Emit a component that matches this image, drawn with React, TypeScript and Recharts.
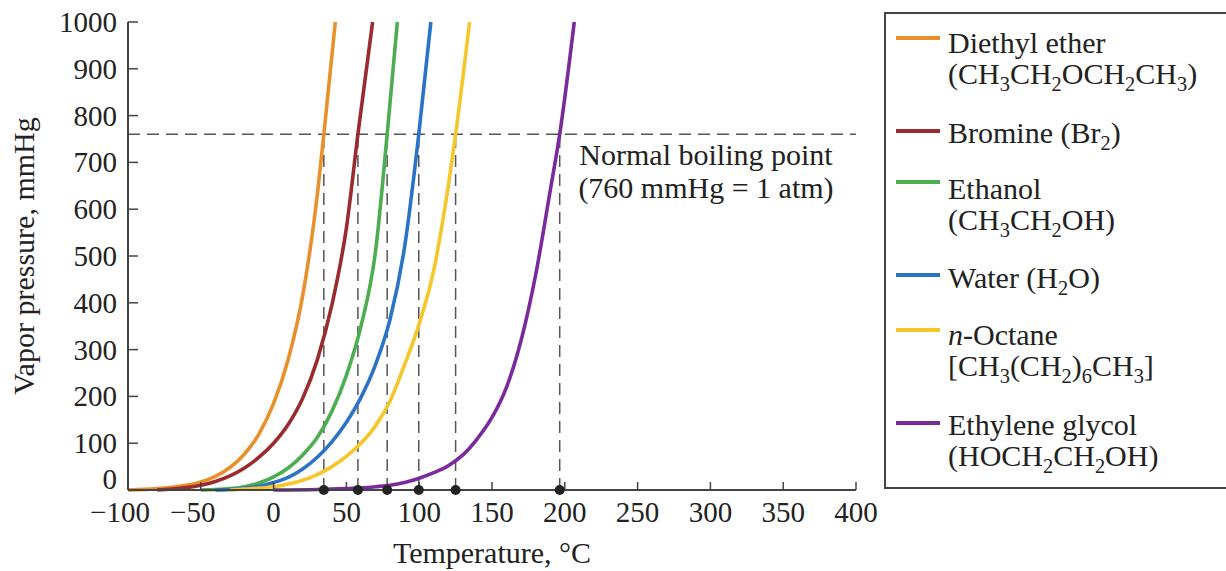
import React from "react";
import {
  LineChart,
  Line,
  XAxis,
  YAxis,
  ReferenceLine,
  ReferenceDot,
} from "recharts";

// vapor pressure (mmHg) vs temperature (°C)
const etherPts = [
  { t: -100, p: 0 }, { t: -80, p: 3 }, { t: -70, p: 6 }, { t: -60, p: 10 }, { t: -50, p: 17 },
  { t: -40, p: 29 }, { t: -30, p: 48 }, { t: -20, p: 77 }, { t: -10, p: 120 }, { t: 0, p: 185 },
  { t: 10, p: 279 }, { t: 20, p: 416 }, { t: 30, p: 630 }, { t: 34.5, p: 760 }, { t: 42.4, p: 1000 },
];
const brominePts = [
  { t: -80, p: 0 }, { t: -70, p: 2 }, { t: -60, p: 5 }, { t: -50, p: 10 }, { t: -40, p: 18 },
  { t: -30, p: 30 }, { t: -20, p: 47 }, { t: -10, p: 70 }, { t: 0, p: 100 }, { t: 10, p: 140 },
  { t: 20, p: 196 }, { t: 30, p: 278 }, { t: 40, p: 395 }, { t: 50, p: 560 }, { t: 57.9, p: 760 },
  { t: 68, p: 1000 },
];
const ethanolPts = [
  { t: -50, p: 0 }, { t: -40, p: 1 }, { t: -30, p: 3 }, { t: -20, p: 7 }, { t: -10, p: 15 },
  { t: 0, p: 28 }, { t: 10, p: 47 }, { t: 20, p: 75 }, { t: 30, p: 112 }, { t: 40, p: 168 },
  { t: 50, p: 245 }, { t: 60, p: 350 }, { t: 70, p: 510 }, { t: 78, p: 760 }, { t: 85, p: 1000 },
];
const waterPts = [
  { t: -40, p: 0 }, { t: -30, p: 1 }, { t: -20, p: 4 }, { t: -10, p: 8 }, { t: 0, p: 16 },
  { t: 10, p: 27 }, { t: 20, p: 45 }, { t: 30, p: 70 }, { t: 40, p: 103 }, { t: 50, p: 145 },
  { t: 60, p: 198 }, { t: 70, p: 268 }, { t: 80, p: 365 }, { t: 90, p: 520 }, { t: 99.7, p: 760 },
  { t: 108, p: 1000 },
];
const octanePts = [
  { t: -30, p: 0 }, { t: -20, p: 2 }, { t: -10, p: 4 }, { t: 0, p: 7 }, { t: 10, p: 13 },
  { t: 20, p: 21 }, { t: 30, p: 33 }, { t: 40, p: 50 }, { t: 50, p: 72 }, { t: 60, p: 100 },
  { t: 70, p: 137 }, { t: 80, p: 190 }, { t: 90, p: 268 }, { t: 100, p: 355 }, { t: 110, p: 470 },
  { t: 120, p: 650 }, { t: 125, p: 760 }, { t: 134.6, p: 1000 },
];
const glycolPts = [
  { t: 0, p: 0 }, { t: 30, p: 1 }, { t: 50, p: 3 }, { t: 60, p: 4.5 }, { t: 70, p: 7 },
  { t: 80, p: 10 }, { t: 90, p: 16 }, { t: 100, p: 25 }, { t: 110, p: 37 }, { t: 120, p: 52 },
  { t: 130, p: 75 }, { t: 140, p: 110 }, { t: 150, p: 155 }, { t: 160, p: 220 }, { t: 170, p: 320 },
  { t: 180, p: 460 }, { t: 190, p: 640 }, { t: 196.5, p: 760 }, { t: 206.5, p: 1000 },
];

const seriesNames = ["Diethyl ether", "Bromine", "Ethanol", "Water", "n-Octane", "Ethylene glycol"];
const seriesData = [etherPts, brominePts, ethanolPts, waterPts, octanePts, glycolPts];
const seriesColors = ["#e8902c", "#9a2b2e", "#4cae50", "#2b73c5", "#f5c72a", "#7a2a9a"];
const boilingPoints = [34.5, 57.9, 78, 99.7, 125, 196.5];
const atmPressure = 760;

const xTicks = [-100, -50, 0, 50, 100, 150, 200, 250, 300, 350, 400];
const yTicks = [0, 100, 200, 300, 400, 500, 600, 700, 800, 900, 1000];

const FONT = '"Liberation Serif", "DejaVu Serif", serif';
const INK = "#222";
const AXIS = "#444";

function XTick({ x, y, payload }: any) {
  const v = payload.value;
  const s = v < 0 ? "\u2212" + Math.abs(v) : String(v);
  return (
    <text x={x} y={y + 32} dx={v < 0 ? -8 : 0} textAnchor="middle" fontSize={29} fill={INK} fontFamily={FONT}>
      {s}
    </text>
  );
}

function YTick({ x, y, payload }: any) {
  const v = payload.value;
  return (
    <text x={x} y={y + (v === 0 ? -1 : 10)} textAnchor="end" fontSize={29} fill={INK} fontFamily={FONT}>
      {v}
    </text>
  );
}

const sub = (s: string) => (
  <span style={{ fontSize: "0.68em", position: "relative", top: "0.32em", lineHeight: 0 }}>{s}</span>
);

// legend rows: first-line baseline, swatch y, text lines
const legendRows = [
  { base: 53, swatch: 38, lines: [<>Diethyl ether</>, <>(CH{sub("3")}CH{sub("2")}OCH{sub("2")}CH{sub("3")})</>] },
  { base: 143, swatch: 131, lines: [<>Bromine (Br{sub("2")})</>] },
  { base: 199, swatch: 182, lines: [<>Ethanol</>, <>(CH{sub("3")}CH{sub("2")}OH)</>] },
  { base: 288, swatch: 275, lines: [<>Water (H{sub("2")}O)</>] },
  { base: 345, swatch: 330, lines: [<><i>n</i>-Octane</>, <>[CH{sub("3")}(CH{sub("2")}){sub("6")}CH{sub("3")}]</>] },
  { base: 435, swatch: 423, lines: [<>Ethylene glycol</>, <>(HOCH{sub("2")}CH{sub("2")}OH)</>] },
];

export default function App() {
  return (
    <div
      style={{
        position: "absolute",
        left: 0,
        top: 0,
        width: 1226,
        height: 571,
        overflow: "hidden",
        background: "#fff",
        fontFamily: FONT,
        color: INK,
      }}
    >
      <LineChart width={880} height={571} margin={{ top: 22, right: 24, bottom: 0, left: 0 }}>
        <XAxis
          type="number"
          dataKey="t"
          domain={[-100, 400]}
          ticks={xTicks}
          allowDataOverflow
          height={81}
          tickSize={-8}
          tickMargin={8}
          tick={<XTick />}
          axisLine={{ stroke: AXIS, strokeWidth: 2 }}
          tickLine={{ stroke: AXIS, strokeWidth: 1.5 }}
          label={{ value: "Temperature, °C", position: "insideBottom", offset: 8, fill: INK, fontSize: 30, fontFamily: FONT }}
        />
        <YAxis
          type="number"
          dataKey="p"
          domain={[0, 1000]}
          ticks={yTicks}
          width={128}
          tickSize={-10}
          tickMargin={21}
          tick={<YTick />}
          axisLine={{ stroke: AXIS, strokeWidth: 2 }}
          tickLine={{ stroke: AXIS, strokeWidth: 1.5 }}
          label={{
            value: "Vapor pressure, mmHg",
            angle: -90,
            position: "insideLeft",
            offset: 23,
            fill: INK,
            fontSize: 30,
            fontFamily: FONT,
            style: { textAnchor: "middle" },
          }}
        />
        <ReferenceLine y={atmPressure} stroke="#555" strokeWidth={1.5} strokeDasharray="12 7" />
        {boilingPoints.map((bp) => (
          <ReferenceLine
            key={"v" + bp}
            segment={[{ x: bp, y: 0 }, { x: bp, y: atmPressure }]}
            stroke="#555"
            strokeWidth={1.5}
            strokeDasharray="12 7"
          />
        ))}
        {seriesData.map((d, i) => (
          <Line
            key={seriesNames[i]}
            data={d}
            dataKey="p"
            name={seriesNames[i]}
            type="monotone"
            stroke={seriesColors[i]}
            strokeWidth={3.6}
            dot={false}
            isAnimationActive={false}
          />
        ))}
        {boilingPoints.map((bp) => (
          <ReferenceDot key={"d" + bp} x={bp} y={0} r={5} fill="#222" stroke="none" />
        ))}
      </LineChart>

      <div
        style={{
          position: "absolute",
          left: 556,
          top: 138,
          width: 300,
          textAlign: "center",
          fontSize: 30,
          lineHeight: "33px",
        }}
      >
        Normal boiling point
        <br />
        (760 mmHg = 1 atm)
      </div>

      <div
        style={{
          position: "absolute",
          left: 884,
          top: 12,
          width: 380,
          height: 477,
          border: "2px solid #444",
          boxSizing: "border-box",
        }}
      />
      {legendRows.map((row, i) => (
        <React.Fragment key={i}>
          <div
            style={{
              position: "absolute",
              left: 896,
              top: row.swatch - 2,
              width: 44,
              height: 4,
              background: seriesColors[i],
            }}
          />
          {row.lines.map((ln, j) => (
            <div
              key={j}
              style={{
                position: "absolute",
                left: 948,
                top: row.base + j * 31 - 27,
                fontSize: 30,
                lineHeight: "33px",
                whiteSpace: "nowrap",
              }}
            >
              {ln}
            </div>
          ))}
        </React.Fragment>
      ))}
    </div>
  );
}
